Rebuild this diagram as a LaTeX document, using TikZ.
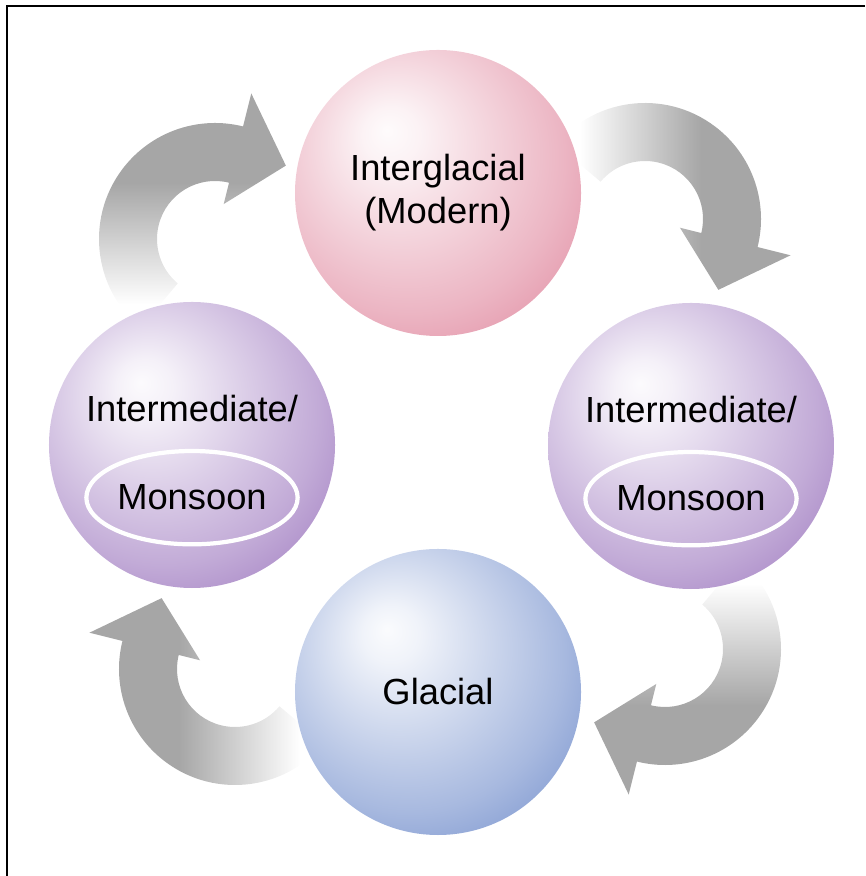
\documentclass[tikz,border=0pt]{standalone}
\usepackage{fontspec}
\setmainfont{Liberation Sans}
\definecolor{rosy}{RGB}{222,128,152}
\definecolor{lilac}{RGB}{150,110,186}
\definecolor{icy}{RGB}{104,134,200}
\definecolor{arrowgrey}{RGB}{166,166,166}
\colorlet{sphcol}{rosy}
\usetikzlibrary{calc, positioning, shapes.geometric}

\pgfdeclareradialshading[sphcol]{sphere}{\pgfpoint{-9bp}{11bp}}{%
  color(0bp)=(sphcol!3!white); color(5bp)=(sphcol!10!white);
  color(15bp)=(sphcol!32!white); color(27bp)=(sphcol!58!white);
  color(37bp)=(sphcol!85!white); color(42bp)=(sphcol); color(60bp)=(sphcol)}
\pgfdeclarehorizontalshading{fade}{100bp}{%
  color(0bp)=(white); color(30bp)=(white);
  color(56bp)=(arrowgrey); color(100bp)=(arrowgrey)}

\begin{document}
\begin{tikzpicture}[
    x=0.03cm, y=0.03cm,
    ball/.style={circle, minimum size=8.58cm, inner sep=0pt, shading=sphere,
      font=\fontsize{31}{36.6}\selectfont, align=center},
    tint/.code={\colorlet{sphcol}{#1}},
    caption/.style={font=\fontsize{31}{36.6}\selectfont, inner sep=0pt},
    ring/.style={ellipse, draw=white, line width=3.6pt, minimum width=5.9cm,
      minimum height=2.8cm, inner sep=0pt, font=\fontsize{31}{36.6}\selectfont},
    turn/.style={shading=fade},
  ]
  \useasboundingbox (0,0) rectangle (865,876);
  \draw[line width=2.1pt] (7,0) -- (7,870) -- (865,870);

  \coordinate (hub) at (440,432);
  \foreach \k [evaluate=\k as \ang using -90*\k] in {0,...,3}{
    \begin{scope}[rotate around={\ang:(hub)}, shift={(645,657)}]
      \path[turn, shading angle=\ang] (140:116) arc[start angle=140, end angle=-14, radius=116]
        -- (-14:150) -- (-44:102) -- (-14:36) -- (-14:58)
        arc[start angle=-14, end angle=140, radius=58] -- cycle;
    \end{scope}
  }

  \node[ball, tint=rosy] (inter) at (438,683) {Interglacial\\(Modern)};
  \node[ball, tint=lilac] (left) at (192,431) {};
  \node[ball, tint=lilac] (right) at (691,430) {};
  \node[ball, tint=icy] (glacial) at (438,184) {Glacial};

  \node[caption] (ltext) at ([yshift=1.1cm]left.center) {Intermediate/};
  \node[ring] (lring) at ([yshift=-1.58cm]left.center) {Monsoon};
  \node[caption] (rtext) at ([yshift=1.1cm]right.center) {Intermediate/};
  \node[ring] (rring) at ([yshift=-1.58cm]right.center) {Monsoon};
\end{tikzpicture}
\end{document}
